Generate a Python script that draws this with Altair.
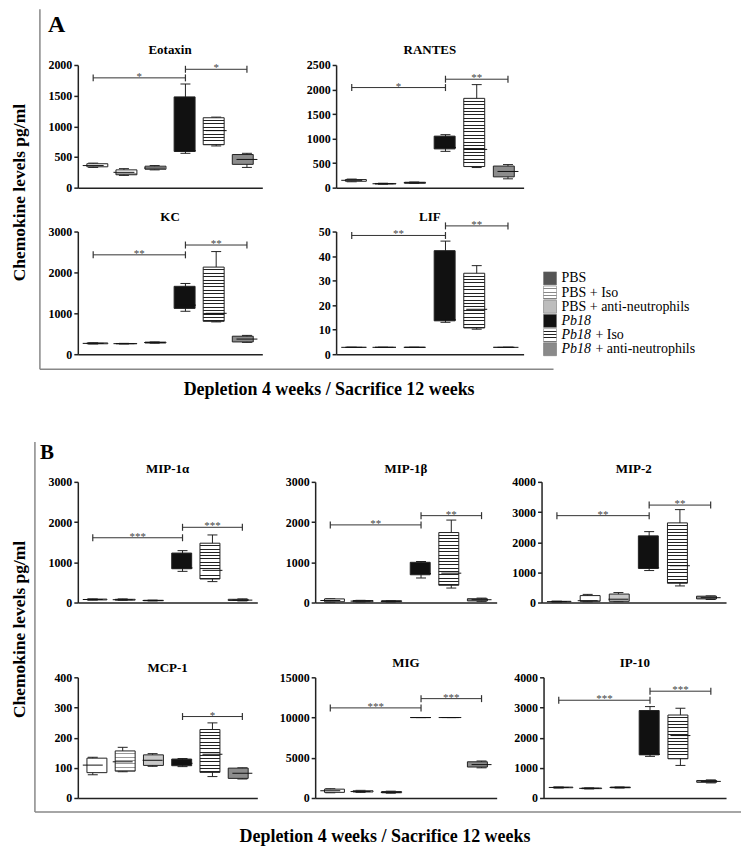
import altair as alt
import pandas as pd

W, H = 736, 840
SERIF = "Liberation Serif"

GROUPS = ["PBS", "PBS + Iso", "PBS + anti-neutrophils", "Pb18", "Pb18 + Iso",
          "Pb18 + anti-neutrophils"]

# (min, q1, median, q3, max) per group
EOTAXIN = [(330, 340, 360, 390, 400), (200, 210, 250, 290, 310), (290, 300, 320, 350, 360),
           (560, 590, 600, 1480, 1690), (680, 700, 930, 1140, 1150), (330, 380, 460, 540, 560)]
RANTES = [(120, 130, 150, 165, 175), (70, 75, 80, 85, 90), (85, 90, 100, 110, 115),
          (740, 790, 820, 1050, 1080), (410, 430, 780, 1820, 2100), (180, 220, 330, 440, 470)]
KC = [(250, 255, 265, 275, 280), (250, 255, 258, 262, 265), (270, 275, 285, 295, 300),
      (1050, 1120, 1200, 1660, 1730), (790, 805, 1000, 2130, 2510), (290, 300, 370, 440, 460)]
LIF = [(2.8, 2.8, 2.8, 2.8, 2.8), (2.8, 2.8, 2.8, 2.8, 2.8), (2.8, 2.8, 2.8, 2.8, 2.8),
       (13.0, 13.6, 14.0, 42.2, 46.1), (10.2, 10.7, 18.3, 33.0, 36.1), (2.8, 2.8, 2.8, 2.8, 2.8)]
MIP1A = [(60, 65, 75, 85, 90), (55, 60, 70, 80, 90), (40, 45, 50, 55, 60),
         (775, 840, 860, 1230, 1290), (520, 585, 800, 1475, 1680), (40, 50, 60, 80, 90)]
MIP1B = [(10, 20, 50, 90, 95), (15, 20, 35, 50, 55), (15, 20, 30, 45, 50),
         (610, 690, 720, 1000, 1020), (360, 430, 730, 1740, 2050), (30, 40, 70, 95, 110)]
MIP2 = [(20, 25, 30, 40, 45), (25, 40, 60, 230, 270), (30, 40, 110, 280, 330),
        (1060, 1130, 1150, 2210, 2350), (550, 640, 1220, 2640, 3080), (100, 120, 160, 210, 220)]
MCP1 = [(77, 84, 109, 132, 135), (87, 89, 120, 156, 168), (105, 108, 125, 143, 147),
        (104, 107, 115, 129, 131), (71, 85, 145, 227, 249), (63, 65, 82, 99, 100)]
MIG = [(650, 700, 900, 1100, 1150), (700, 750, 800, 900, 950), (600, 650, 700, 800, 850),
       (10000, 10000, 10000, 10000, 10000), (10000, 10000, 10000, 10000, 10000),
       (3750, 3850, 4150, 4500, 4600)]
IP10 = [(330, 340, 350, 360, 365), (300, 310, 320, 330, 335), (330, 340, 350, 360, 365),
        (1380, 1430, 1450, 2900, 3030), (1080, 1300, 2070, 2750, 2975), (500, 520, 550, 580, 600)]

# significance brackets: (from group, to group, height, stars)
EOTAXIN_SIG = [(0, 3, 1790, "*"), (3, 5, 1930, "*")]
RANTES_SIG = [(0, 3, 2040, "*"), (3, 5, 2210, "**")]
KC_SIG = [(0, 3, 2430, "**"), (3, 5, 2670, "**")]
LIF_SIG = [(0, 3, 48.4, "**"), (3, 5, 52.3, "**")]
MIP1A_SIG = [(0, 3, 1610, "***"), (3, 5, 1870, "***")]
MIP1B_SIG = [(0, 3, 1930, "**"), (3, 5, 2160, "**")]
MIP2_SIG = [(0, 3, 2880, "**"), (3, 5, 3230, "**")]
MCP1_SIG = [(3, 5, 270, "*")]
MIG_SIG = [(0, 3, 11200, "***"), (3, 5, 12350, "***")]
IP10_SIG = [(0, 3, 3240, "***"), (3, 5, 3540, "***")]

# layout of each panel (plot rectangle in chart pixels)
PANELS = [
    ("Eotaxin", EOTAXIN, EOTAXIN_SIG, 2000, 500, (70, 255, 56, 179), 21, -11),
    ("RANTES", RANTES, RANTES_SIG, 2500, 500, (329, 517, 56, 179), 21, -11),
    ("KC", KC, KC_SIG, 3000, 1000, (70, 255, 223, 346), 21, -11),
    ("LIF", LIF, LIF_SIG, 50, 10, (329, 517, 223, 346), 21, -11),
    ("MIP-1α", MIP1A, MIP1A_SIG, 3000, 1000, (70, 250, 474, 595), 20, -9),
    ("MIP-1β", MIP1B, MIP1B_SIG, 3000, 1000, (308, 490, 474, 595), 20, -9),
    ("MIP-2", MIP2, MIP2_SIG, 4000, 1000, (535, 720, 474, 595), 20, -9),
    ("MCP-1", MCP1, MCP1_SIG, 400, 100, (70, 250, 670, 791), 20, -5),
    ("MIG", MIG, MIG_SIG, 15000, 5000, (308, 490, 670, 791), 20, -10),
    ("IP-10", IP10, IP10_SIG, 4000, 1000, (537, 720, 670, 791), 20, -10),
]


def stripes(n, color, t=0.3, bg="white"):
    stops = []
    for k in range(n):
        a = k / n
        b = (k + 1 - t) / n
        c = (k + 1) / n
        stops += [{"offset": a, "color": bg}, {"offset": b, "color": bg},
                  {"offset": b, "color": color}, {"offset": c, "color": color}]
    return {"gradient": "linear", "x1": 0, "y1": 0, "x2": 0, "y2": 1, "stops": stops}


def box_fill(i, px):
    n = max(1, int(round(px / 3.4)))
    if i == 0:
        return "white"
    if i == 1:
        return stripes(n, "#9a9a9a")
    if i == 2:
        return "#c8c8c8"
    if i == 3:
        return "#111111"
    if i == 4:
        return stripes(n, "#222222")
    return "#8c8c8c"


AX = dict(labelFont=SERIF, labelFontWeight="bold", labelFontSize=12, labelColor="black",
          domainColor="#222", domainWidth=1.5, tickColor="#222", tickWidth=1.5, tickSize=4,
          labelPadding=2, grid=False, title=None)

layers = []
for name, stats, sig, ymax, step, (x0, x1, yt, yb), bw, tdy in PANELS:
    xs = alt.Scale(domain=[-0.5, 5.5], range=[x0, x1], nice=False, zero=False)
    ys = alt.Scale(domain=[0, ymax], range=[yb, yt], nice=False, zero=False)
    df = pd.DataFrame({
        "i": list(range(6)),
        "lo": [s[0] for s in stats], "q1": [s[1] for s in stats],
        "med": [s[2] for s in stats], "q3": [s[3] for s in stats],
        "hi": [s[4] for s in stats],
    })
    base = alt.Chart(df)
    yaxis = alt.Axis(orient="left", offset=-x0, values=list(range(0, ymax + 1, step)),
                     format="d", **AX)
    xaxis = alt.Axis(orient="bottom", offset=yb - H, labels=False, ticks=False,
                     domainColor="#222", domainWidth=1.5, grid=False, title=None)
    layers.append(base.mark_rule(color="#222", strokeWidth=1).encode(
        x=alt.X("i:Q", scale=xs, axis=xaxis),
        y=alt.Y("lo:Q", scale=ys, axis=yaxis), y2="hi:Q"))
    for f in ["lo", "hi"]:
        layers.append(base.mark_tick(orient="horizontal", size=10, thickness=1,
                                     color="#222", opacity=1).encode(
            x=alt.X("i:Q", scale=xs, axis=None), y=alt.Y(f + ":Q", scale=ys, axis=None)))
    for i in range(6):
        px = (stats[i][3] - stats[i][1]) / ymax * (yb - yt)
        layers.append(base.transform_filter(alt.datum.i == i).mark_bar(
            size=bw, fill=box_fill(i, px), stroke="#222", strokeWidth=1, opacity=1).encode(
            x=alt.X("i:Q", scale=xs, axis=None),
            y=alt.Y("q1:Q", scale=ys, axis=None), y2="q3:Q"))
    layers.append(base.mark_tick(orient="horizontal", size=bw, thickness=1,
                                 color="#111", opacity=1).encode(
        x=alt.X("i:Q", scale=xs, axis=None), y=alt.Y("med:Q", scale=ys, axis=None)))

    sdf = pd.DataFrame({"a": [s[0] for s in sig], "b": [s[1] for s in sig],
                        "y": [s[2] for s in sig], "lab": [s[3] for s in sig]})
    sb = alt.Chart(sdf)
    layers.append(sb.mark_rule(color="#333", strokeWidth=1).encode(
        x=alt.X("a:Q", scale=xs, axis=None), x2="b:Q",
        y=alt.Y("y:Q", scale=ys, axis=None)))
    for f in ["a", "b"]:
        layers.append(sb.mark_tick(orient="vertical", size=7, thickness=1.2,
                                   color="#333", opacity=1).encode(
            x=alt.X(f + ":Q", scale=xs, axis=None), y=alt.Y("y:Q", scale=ys, axis=None)))
    layers.append(sb.transform_calculate(m="(datum.a + datum.b) / 2").mark_text(
        font=SERIF, fontSize=11, baseline="alphabetic", dy=2, color="#444").encode(
        x=alt.X("m:Q", scale=xs, axis=None), y=alt.Y("y:Q", scale=ys, axis=None),
        text="lab:N"))

    tdf = pd.DataFrame({"x": [2.5], "y": [ymax], "t": [name]})
    layers.append(alt.Chart(tdf).mark_text(
        font=SERIF, fontSize=13, fontWeight="bold", baseline="alphabetic", dy=tdy,
        color="black").encode(
        x=alt.X("x:Q", scale=xs, axis=None), y=alt.Y("y:Q", scale=ys, axis=None),
        text="t:N"))

# legend
LEG_PRE = ["PBS", "PBS + Iso", "PBS + anti-neutrophils", "Pb18", "Pb18", "Pb18"]
LEG_SUF = ["", "", "", "", "+ Iso", "+ anti-neutrophils"]
LEG_FILL = ["#555555", stripes(4, "#8a8a8a"), "#bdbdbd", "#111111", stripes(4, "#222222"),
            "#8a8a8a"]
ldf = pd.DataFrame({"g": GROUPS, "pre": LEG_PRE, "suf": LEG_SUF, "k": list(range(6))})
ly = alt.Scale(type="point", domain=GROUPS, range=[270, 341], padding=0)
lb = alt.Chart(ldf)
for i in range(6):
    layers.append(lb.transform_filter(alt.datum.k == i).mark_square(
        size=169, fill=LEG_FILL[i], stroke="#666", strokeWidth=0.5, opacity=1).encode(
        x=alt.value(543.5), y=alt.Y("g:N", scale=ly, axis=None)))
layers.append(lb.transform_filter(alt.datum.k < 3).mark_text(
    font=SERIF, fontSize=14, align="left", baseline="middle", color="black").encode(
    x=alt.value(555), y=alt.Y("g:N", scale=ly, axis=None), text="pre:N"))
layers.append(lb.transform_filter(alt.datum.k >= 3).mark_text(
    font=SERIF, fontSize=14, fontStyle="italic", align="left", baseline="middle",
    color="black").encode(
    x=alt.value(555), y=alt.Y("g:N", scale=ly, axis=None), text="pre:N"))
layers.append(lb.transform_filter(alt.datum.k >= 4).mark_text(
    font=SERIF, fontSize=14, align="left", baseline="middle", dx=34, color="black").encode(
    x=alt.value(555), y=alt.Y("g:N", scale=ly, axis=None), text="suf:N"))

# decorations: frames, panel letters, shared titles
one = alt.Data(values=[{}])
FRAME = "#888888"


def rule(x, y, x2=None, y2=None):
    enc = dict(x=alt.value(x), y=alt.value(y))
    if x2 is not None:
        enc["x2"] = alt.value(x2)
    if y2 is not None:
        enc["y2"] = alt.value(y2)
    return alt.Chart(one).mark_rule(color=FRAME, strokeWidth=1.5).encode(**enc)


def label(txt, x, y, size, angle=0, align="left", baseline="alphabetic"):
    return alt.Chart(one).mark_text(
        text=txt, font=SERIF, fontSize=size, fontWeight="bold", angle=angle, align=align,
        baseline=baseline, color="black").encode(x=alt.value(x), y=alt.value(y))


layers += [
    rule(32, 0, y2=361), rule(32, 361, x2=547),
    rule(27, 434, y2=805), rule(27, 805, x2=735),
    label("A", 40, 23, 24), label("B", 32, 451, 21),
    label("Chemokine levels pg/ml", 12, 184, 17.5, angle=270, align="center", baseline="middle"),
    label("Chemokine levels pg/ml", 12, 622, 17.5, angle=270, align="center", baseline="middle"),
    label("Depletion 4 weeks / Sacrifice 12 weeks", 322, 387, 18, align="center"),
    label("Depletion 4 weeks / Sacrifice 12 weeks", 378, 835, 18, align="center"),
]

chart = alt.layer(*layers).resolve_scale(x="independent", y="independent").properties(
    width=W, height=H, padding=0, autosize=alt.AutoSizeParams(type="none")
).configure_view(stroke=None)

chart.save("out.html", embed_options={"renderer": "svg", "actions": False})
